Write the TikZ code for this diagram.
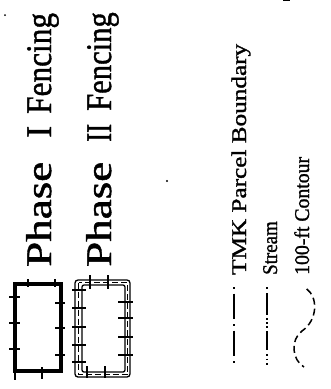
\documentclass[tikz,border=0pt]{standalone}
\usepackage{fontspec}
\setmainfont{Liberation Serif}
\newfontfamily\heavyserif{Liberation Serif}[FakeBold=1.2]
\begin{document}
\begin{tikzpicture}[x=1pt,y=-1pt,
  fenceone/.style={line width=4pt},
  fencetwo/.style={line width=1.3pt},
  tick/.style={line width=2pt},
  lbl/.style={rotate=90,anchor=base west,inner sep=0pt,font=\heavyserif\fontsize{36}{36}\selectfont},
  leg/.style={rotate=90,anchor=base west,inner sep=0pt,font=\heavyserif\fontsize{21}{21}\selectfont},
  legline/.style={line width=2pt}]
\useasboundingbox (0,0) rectangle (331,389);
% Phase I fencing symbol
\draw[fenceone] (15,284) rectangle (61,371);
\foreach \y in {297,323,349} \draw[tick] (9,\y) -- (20,\y);
\foreach \y in {303,328,355} \draw[tick] (55,\y) -- (65,\y);
\foreach \x in {28,55} \draw[tick] (\x,279) -- (\x,287);
\draw[tick] (42,367) -- (42,379);
\draw[tick] (15,371) -- (15,380);
% Phase II fencing symbol
\draw[fencetwo,rounded corners=3pt] (75,280) rectangle (130,377);
\draw[fencetwo,rounded corners=2pt] (82,285) rectangle (125,372);
\draw[line width=1.4pt,dash pattern=on 6pt off 3pt] (78.5,282.5) rectangle (127.5,374.5);
\foreach \y in {290,308,327,345,362} \draw[tick] (72,\y) -- (86,\y);
\foreach \y in {302,318,337,355} \draw[tick] (118,\y) -- (133,\y);
\foreach \x in {90,108} \draw[tick] (\x,275) -- (\x,289);
\foreach \x in {87,105} \draw[tick] (\x,366) -- (\x,378);
% labels
\node[lbl] (p1a) at (51,267) {\scalebox{1.25}[1]{Phase}};
\node[lbl] (p1b) at (51,138) {I};
\node[lbl] (p1c) at (51,114) {\scalebox{0.87}[1]{Fencing}};
\node[lbl] (p2a) at (111,267) {\scalebox{1.25}[1]{Phase}};
\node[lbl] (p2b) at (111,142) {\scalebox{0.75}[1]{II}};
\node[lbl] (p2c) at (111,111) {\scalebox{0.85}[1]{Fencing}};
% legend
\draw[legline,dash pattern=on 1.5pt off 5pt on 25pt off 5.5pt] (234,287) -- (234,366);
\draw[legline,dash pattern=on 1.5pt off 4.5pt on 22pt off 3pt on 1.5pt off 2.5pt on 1.5pt off 2.5pt on 1.5pt off 3.5pt on 19pt off 4pt on 1.5pt off 3pt on 1.5pt off 3pt on 1.5pt off 10pt] (267,287) -- (267,366);
\draw[line width=1.5pt,dash pattern=on 7pt off 4pt] (306.7,289) .. controls (318,297) and (318,320) .. (302,331) .. controls (290,340) and (292,360) .. (304,367);
\node[leg] (tmk) at (246,275) {\scalebox{1.2}[1]{TMK Parcel Boundary}};
\node[leg] (str) at (277,275) {\scalebox{0.9}[1]{Stream}};
\node[leg] (con) at (309,275) {\scalebox{0.94}[1]{100-ft Contour}};
% specks
\fill (5,15) circle (1);
\fill (167,181) circle (1.2);
\fill (283,0) rectangle (290,1.2);
\end{tikzpicture}
\end{document}
